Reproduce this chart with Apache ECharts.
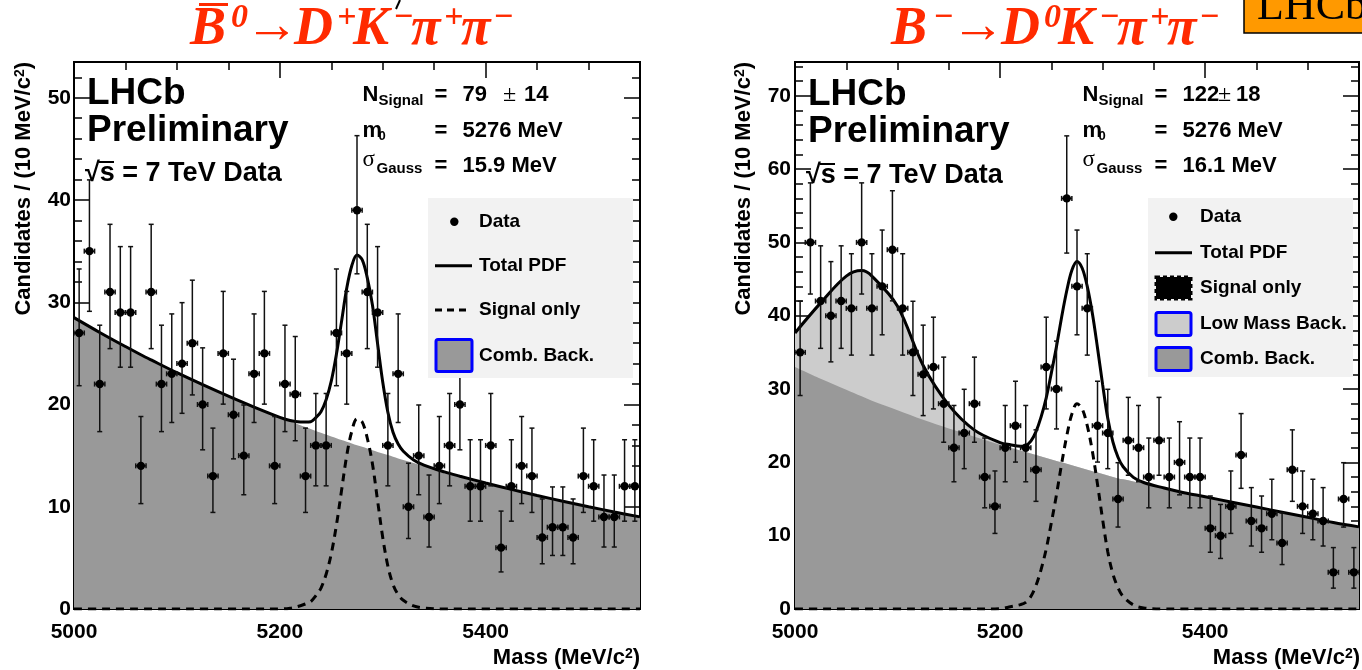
<!DOCTYPE html>
<html><head><meta charset="utf-8">
<script src="https://cdn.jsdelivr.net/npm/echarts@6/dist/echarts.min.js"></script>
<style>html,body{margin:0;padding:0;background:#fff}#c{width:1362px;height:670px}</style>
</head><body><div id="c"></div>
<script>
// ---------------- data ----------------
const massBins = [5005,5015,5025,5035,5045,5055,5065,5075,5085,5095,5105,5115,5125,5135,5145,5155,5165,5175,5185,5195,5205,5215,5225,5235,5245,5255,5265,5275,5285,5295,5305,5315,5325,5335,5345,5355,5365,5375,5385,5395,5405,5415,5425,5435,5445,5455,5465,5475,5485,5495,5505,5515,5525,5535,5545];
const countsB0 = [27,35,22,31,29,29,14,31,22,23,24,26,20,13,25,19,15,23,25,14,22,21,13,16,16,27,25,39,31,29,16,23,10,15,9,14,16,20,12,12,16,6,12,14,13,7,8,8,7,13,12,9,9,12,12];
const countsBm = [35,50,42,40,42,41,50,41,44,49,41,35,32,33,28,22,24,28,18,14,22,25,22,19,33,30,56,44,41,25,24,15,23,22,18,23,18,20,18,18,11,10,14,21,12,11,13,9,19,14,13,12,5,15,5];

const curveMass = [5000,5025,5050,5065,5075,5100,5125,5150,5175,5200,5210,5220,5225,5230,5235,5240,5245,5250,5255,5260,5265,5270,5275,5280,5285,5290,5295,5300,5305,5310,5315,5320,5330,5340,5360,5375,5400,5425,5450,5475,5500,5525,5550];
const b0Comb   = [28.50,27.05,25.67,24.87,24.36,23.11,21.94,20.82,19.75,18.75,18.36,17.98,17.79,17.60,17.42,17.24,17.06,16.88,16.71,16.53,16.36,16.19,16.02,15.86,15.69,15.53,15.36,15.20,15.05,14.89,14.73,14.58,14.28,13.98,13.41,12.99,12.33,11.70,11.10,10.54,10.00,9.49,9.01];
const b0Signal = [0,0,0,0,0,0,0,0,0,0,0.08,0.32,0.5,0.72,1.3,2.05,3.4,5.4,8.2,11.6,15.0,17.4,18.6,18.3,16.7,14.2,10.6,7.0,4.2,2.4,1.4,0.85,0.3,0.1,0,0,0,0,0,0,0,0,0];
const b0Total  = [28.50,27.05,25.67,24.87,24.36,23.11,21.94,20.82,19.75,18.75,18.44,18.30,18.29,18.32,18.72,19.29,20.46,22.28,24.91,28.13,31.36,33.59,34.62,34.16,32.39,29.73,25.96,22.20,19.25,17.29,16.13,15.43,14.58,14.08,13.41,12.99,12.33,11.70,11.10,10.54,10.00,9.49,9.01];

const bmComb    = [33.0,31.4,29.9,29.0,28.4,27.1,25.8,24.6,23.5,22.4,22.0,21.6,21.4,21.2,21.0,20.8,20.6,20.4,20.2,20.0,19.8,19.6,19.4,19.2,19.0,18.8,18.6,18.4,18.2,18.0,17.8,17.7,17.4,17.1,16.5,16.0,15.3,14.6,13.9,13.2,12.5,11.8,11.2];
const bmLowMass = [4.65,10.35,15.5,17.15,17.0,14.2,7.4,3.2,0.9,0.25,0.1,0,0,0,0,0,0,0,0,0,0,0,0,0,0,0,0,0,0,0,0,0,0,0,0,0,0,0,0,0,0,0,0];
const bmSignal  = [0,0,0,0,0,0,0,0,0,0.05,0.3,0.6,0.9,1.7,3.2,5.4,8.2,11.8,15.6,19.8,23.6,26.6,28.0,27.3,25.0,21.5,17.0,12.2,7.8,4.8,2.9,1.7,0.55,0.15,0,0,0,0,0,0,0,0,0];
const bmTotal   = [37.65,41.75,45.4,46.15,45.4,41.3,33.2,27.8,24.4,22.7,22.4,22.2,22.3,22.9,24.2,26.2,28.8,32.2,35.8,39.8,43.4,46.2,47.4,46.5,44.0,40.3,35.6,30.6,26.0,22.8,20.7,19.4,17.95,17.25,16.5,16.0,15.3,14.6,13.9,13.2,12.5,11.8,11.2];

// ---------------- helpers ----------------
const SANS = '"Liberation Sans", Arial, Helvetica, sans-serif';
const SERIF = '"Liberation Serif", "Times New Roman", serif';
const RED = '#ff2a00';

// 68.3% Poisson interval (Wilson-Hilferty approximation of the Garwood interval)
function poisLo(n){ if(n<=0) return 0; return n*Math.pow(1-1/(9*n)-1/(3*Math.sqrt(n)),3); }
function poisHi(n){ const m=n+1; return m*Math.pow(1-1/(9*m)+1/(3*Math.sqrt(m)),3); }
function points(counts){ return massBins.map((m,i)=>[m, counts[i], poisLo(counts[i]), poisHi(counts[i])]); }
function curve(vals){ return curveMass.map((m,i)=>[m, vals[i]]); }
function curveSum(a,b){ return curveMass.map((m,i)=>[m, a[i]+b[i]]); }

function renderPoint(params, api){
  const m=api.value(0), n=api.value(1), lo=api.value(2), hi=api.value(3);
  const c=api.coord([m,n]);
  const top=api.coord([m,hi])[1], bot=api.coord([m,lo])[1];
  const xl=api.coord([m-5,n])[0], xr=api.coord([m+5,n])[0];
  const st={stroke:'#111',lineWidth:1.5};
  return {type:'group',children:[
    {type:'line',shape:{x1:c[0],y1:top,x2:c[0],y2:bot},style:st},
    {type:'line',shape:{x1:c[0]-2.5,y1:top,x2:c[0]+2.5,y2:top},style:st},
    {type:'line',shape:{x1:c[0]-2.5,y1:bot,x2:c[0]+2.5,y2:bot},style:st},
    {type:'line',shape:{x1:xl,y1:c[1],x2:xr,y2:c[1]},style:st},
    {type:'line',shape:{x1:xl,y1:c[1]-2.5,x2:xl,y2:c[1]+2.5},style:st},
    {type:'line',shape:{x1:xr,y1:c[1]-2.5,x2:xr,y2:c[1]+2.5},style:st},
    {type:'circle',shape:{cx:c[0],cy:c[1],r:4.2},style:{fill:'#000'}}
  ]};
}

function xAx(grid,pos,interval,len,labels){
  return {type:'value',gridIndex:grid,position:pos,min:5000,max:5550,interval:interval,
    axisLine:{show:true,onZero:false,lineStyle:{color:'#000',width:2}},
    axisTick:{show:true,inside:true,length:len,lineStyle:{color:'#000',width:1.5}},
    axisLabel:labels?{show:true,margin:13,color:'#000',fontSize:21,fontWeight:'bold',fontFamily:SANS,showMaxLabel:false,formatter:function(v){return String(v);}}:{show:false},
    splitLine:{show:false}};
}
function yAx(grid,pos,max,interval,len,labels,margin){
  return {type:'value',gridIndex:grid,position:pos,min:0,max:max,interval:interval,
    axisLine:{show:true,onZero:false,lineStyle:{color:'#000',width:2}},
    axisTick:{show:true,inside:true,length:len,lineStyle:{color:'#000',width:1.5}},
    axisLabel:labels?{show:true,margin:margin,color:'#000',fontSize:21,fontWeight:'bold',fontFamily:SANS,showMaxLabel:false,formatter:function(v){return String(v);}}:{show:false},
    splitLine:{show:false}};
}

function T(x,y,text,size,extra){
  return {type:'text',x:x,y:y,z:100,style:Object.assign({text:text,fill:'#000',fontSize:size,fontWeight:'bold',fontFamily:SANS,align:'left',verticalAlign:'middle'},extra||{})};
}
function L(x1,y1,x2,y2,w,extra){
  return {type:'line',z:100,shape:{x1:x1,y1:y1,x2:x2,y2:y2},style:Object.assign({stroke:'#000',lineWidth:w},extra||{})};
}
function R(x,y,w,h,fill,stroke,lw){
  return {type:'rect',z:99,shape:{x:x,y:y,width:w,height:h},style:{fill:fill,stroke:stroke,lineWidth:lw}};
}
function RT(x,y,text,size){ // red title chunk
  return {type:'text',x:x,y:y,z:100,style:{text:text,fill:RED,fontSize:size,fontWeight:'bold',fontStyle:'italic',fontFamily:SERIF,align:'left',verticalAlign:'middle'}};
}

const graphics = [];
// ---- titles ----
(function(){
  const M=54,S=34,ym=30,ys=18;
  graphics.push(RT(190,ym,'B',M), L(199,4.5,228,4.5,3,{stroke:RED}),
    RT(231,ys,'0',S), RT(245,ym-2,'\u2192',M), RT(294,ym,'D',M), RT(337,ys,'+',S),
    RT(353,ym,'K',M), RT(393,ys,'\u2212',S), RT(411,ym,'\u03c0',M), RT(444,ys,'+',S),
    RT(461,ym,'\u03c0',M), RT(493,ys,'\u2212',S));
  graphics.push(RT(891,ym,'B',M), RT(933,ys,'\u2212',S), RT(951,ym-2,'\u2192',M), RT(1001,ym,'D',M),
    RT(1044,ys,'0',S), RT(1058,ym,'K',M), RT(1099,ys,'\u2212',S), RT(1117,ym,'\u03c0',M),
    RT(1150,ys,'+',S), RT(1167,ym,'\u03c0',M), RT(1199,ys,'\u2212',S));
})();
graphics.push(L(400,0,396,9,2));
graphics.push(R(1244,-5,130,38,'#ff9900','#000',1.5));
graphics.push({type:'text',x:1257,y:7,z:101,style:{text:'LHCb',fill:'#000',fontSize:44,fontFamily:SERIF,align:'left',verticalAlign:'middle'}});

// ---- panel annotations ----
function panelText(dx, dy){
  graphics.push(T(87+dx,94+dy,'LHCb',37), T(87+dx,131+dy,'Preliminary',37));
  graphics.push(T(85+dx,174+dy*2,'\u221As = 7 TeV Data',27), L(99+dx,162+dy*2,114+dx,162+dy*2,2));
}
panelText(0,0);
panelText(721,1);

function stats(x0, nVal, errVal, pmX, errX, sigma){
  graphics.push(
    T(x0,95,'N',22), T(x0+16,101,'Signal',15), T(x0+72,95,'=',22), T(x0+100,95,nVal,22),
    {type:'text',x:pmX,y:95,z:100,style:{text:'\u00b1',fill:'#000',fontSize:24,fontFamily:SERIF,align:'left',verticalAlign:'middle'}},
    T(errX,95,errVal,22),
    T(x0,130.5,'m',22), T(x0+16,136,'0',13), T(x0+72,130.5,'=',22), T(x0+100,130.5,'5276 MeV',22),
    {type:'text',x:x0,y:160,z:100,style:{text:'\u03c3',fill:'#000',fontSize:23,fontFamily:SERIF,align:'left',verticalAlign:'middle'}},
    T(x0+14,169,'Gauss',15), T(x0+72,165.5,'=',22), T(x0+100,165.5,sigma,22)
  );
}
stats(362.5,'79','14',503,524,'15.9 MeV');
stats(1082.5,'122','18',1218,1236,'16.1 MeV');

// ---- axis titles ----
function yTitle(x){
  graphics.push({type:'text',x:x,y:62,rotation:Math.PI/2,z:100,style:{
    text:'{a|Candidates / (10 MeV/c}{s|2}{a|)}',align:'right',verticalAlign:'middle',
    rich:{a:{fontSize:22,fontWeight:'bold',fontFamily:SANS,fill:'#000'},s:{fontSize:14,fontWeight:'bold',fontFamily:SANS,fill:'#000',verticalAlign:'top'}}}});
}
function xTitle(x){
  graphics.push({type:'text',x:x,y:658,z:100,style:{
    text:'{a|Mass (MeV/c}{s|2}{a|)}',align:'right',verticalAlign:'middle',
    rich:{a:{fontSize:22,fontWeight:'bold',fontFamily:SANS,fill:'#000'},s:{fontSize:14,fontWeight:'bold',fontFamily:SANS,fill:'#000',verticalAlign:'top'}}}});
}
yTitle(24); yTitle(744); xTitle(640); xTitle(1360);

// ---- legends ----
graphics.push(R(428,198,205,180,'#f2f2f2',null,0));
graphics.push({type:'circle',z:100,shape:{cx:454.3,cy:221.7,r:4.2},style:{fill:'#000'}});
graphics.push(T(479,221.7,'Data',19));
graphics.push(L(435,265.7,472,265.7,3));
graphics.push(T(479,265.7,'Total PDF',19));
graphics.push(L(435,310,468,310,3,{lineDash:[7,5]}));
graphics.push(T(479,310,'Signal only',19));
graphics.push({type:'rect',z:100,shape:{x:436,y:339.5,width:36,height:32,r:2},style:{fill:'#999999',stroke:'#0000ff',lineWidth:3}});
graphics.push(T(479,355.5,'Comb. Back.',19));

graphics.push(R(1148,198,205,179,'#f2f2f2',null,0));
graphics.push({type:'circle',z:100,shape:{cx:1173.3,cy:216.7,r:4.2},style:{fill:'#000'}});
graphics.push(T(1200,216.7,'Data',19));
graphics.push(L(1155,252.7,1192,252.7,3));
graphics.push(T(1200,252.7,'Total PDF',19));
graphics.push({type:'rect',z:100,shape:{x:1156,y:277,width:35,height:22},style:{fill:'#000',stroke:'#000',lineWidth:3,lineDash:[4,3]}});
graphics.push(T(1200,288,'Signal only',19));
graphics.push({type:'rect',z:100,shape:{x:1156,y:312.5,width:35,height:23,r:2},style:{fill:'#cccccc',stroke:'#0000ff',lineWidth:3}});
graphics.push(T(1200,324,'Low Mass Back.',19));
graphics.push({type:'rect',z:100,shape:{x:1156,y:347.5,width:35,height:23,r:2},style:{fill:'#999999',stroke:'#0000ff',lineWidth:3}});
graphics.push(T(1200,359,'Comb. Back.',19));

// ---------------- option ----------------
const lineBase = {type:'line',symbol:'none',smooth:0.35,silent:true,animation:false};
const option = {
  animation:false,
  backgroundColor:'#ffffff',
  grid:[
    {left:74,top:62,width:566,height:547},
    {left:795,top:62,width:564,height:547}
  ],
  xAxis:[
    xAx(0,'bottom',200,16,true), xAx(0,'bottom',50,8,false), xAx(0,'top',200,16,false), xAx(0,'top',50,8,false),
    xAx(1,'bottom',200,16,true), xAx(1,'bottom',50,8,false), xAx(1,'top',200,16,false), xAx(1,'top',50,8,false)
  ],
  yAxis:[
    yAx(0,'left',53.5,10,16,true,3), yAx(0,'left',53.5,2,8,false), yAx(0,'right',53.5,10,16,false), yAx(0,'right',53.5,2,8,false),
    yAx(1,'left',74.6,10,16,true,4), yAx(1,'left',74.6,2,8,false), yAx(1,'right',74.6,10,16,false), yAx(1,'right',74.6,2,8,false)
  ],
  series:[
    // left panel
    Object.assign({},lineBase,{name:'Comb. Back. B0',xAxisIndex:0,yAxisIndex:0,z:1,data:curve(b0Comb),lineStyle:{width:0},areaStyle:{color:'#999999',opacity:1}}),
    Object.assign({},lineBase,{name:'Signal B0',xAxisIndex:0,yAxisIndex:0,z:3,data:curve(b0Signal),lineStyle:{color:'#000',width:3,type:[8,6]}}),
    Object.assign({},lineBase,{name:'Total B0',xAxisIndex:0,yAxisIndex:0,z:4,data:curve(b0Total),lineStyle:{color:'#000',width:3}}),
    {type:'custom',name:'Data B0',xAxisIndex:0,yAxisIndex:0,z:5,clip:true,renderItem:renderPoint,data:points(countsB0),silent:true},
    // right panel: low-mass band drawn on top of the combinatorial component
    Object.assign({},lineBase,{name:'Low Mass B-',xAxisIndex:4,yAxisIndex:4,z:1,data:curveSum(bmComb,bmLowMass),lineStyle:{width:0},areaStyle:{color:'#cccccc',opacity:1}}),
    Object.assign({},lineBase,{name:'Comb. Back. B-',xAxisIndex:4,yAxisIndex:4,z:2,data:curve(bmComb),lineStyle:{width:0},areaStyle:{color:'#999999',opacity:1}}),
    Object.assign({},lineBase,{name:'Signal B-',xAxisIndex:4,yAxisIndex:4,z:3,data:curve(bmSignal),lineStyle:{color:'#000',width:3,type:[8,6]}}),
    Object.assign({},lineBase,{name:'Total B-',xAxisIndex:4,yAxisIndex:4,z:4,data:curve(bmTotal),lineStyle:{color:'#000',width:3}}),
    {type:'custom',name:'Data B-',xAxisIndex:4,yAxisIndex:4,z:5,clip:true,renderItem:renderPoint,data:points(countsBm),silent:true}
  ],
  graphic:{elements:graphics}
};
const chart = echarts.init(document.getElementById('c'),null,{renderer:'canvas',width:1362,height:670});
chart.setOption(option);
</script>
</body></html>
